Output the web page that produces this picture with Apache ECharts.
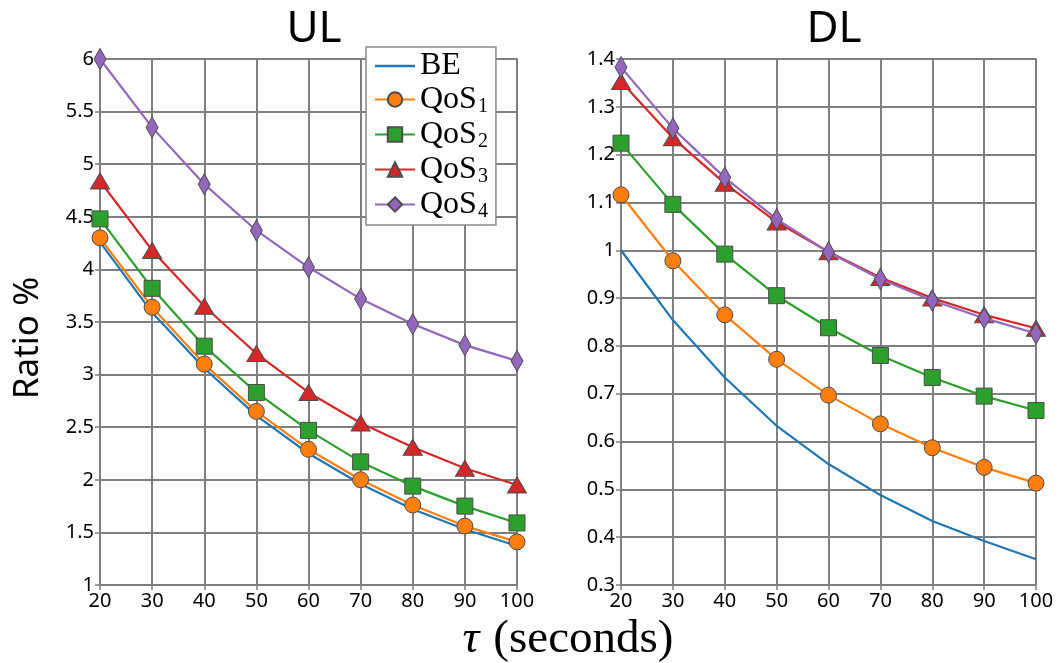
<!DOCTYPE html>
<html>
<head>
<meta charset="utf-8">
<script src="https://cdn.jsdelivr.net/npm/echarts@6/dist/echarts.min.js"></script>
<style>
  html, body { margin: 0; padding: 0; background: #fff; }
  #chart { width: 1058px; height: 663px; }
</style>
</head>
<body>
<div id="chart"></div>
<script>
// Update period tau in seconds
const tau = [20, 30, 40, 50, 60, 70, 80, 90, 100];

// Uplink ratio (%)
const ulBE   = [4.26, 3.59, 3.06, 2.61, 2.25, 1.96, 1.72, 1.53, 1.37];
const ulQoS1 = [4.30, 3.64, 3.10, 2.65, 2.29, 2.00, 1.76, 1.56, 1.41];
const ulQoS2 = [4.48, 3.82, 3.27, 2.83, 2.47, 2.17, 1.94, 1.75, 1.59];
const ulQoS3 = [4.84, 4.18, 3.65, 3.20, 2.83, 2.54, 2.31, 2.11, 1.95];
const ulQoS4 = [6.00, 5.35, 4.81, 4.37, 4.02, 3.72, 3.48, 3.28, 3.13];

// Downlink ratio (%)
const dlBE   = [1.000, 0.854, 0.734, 0.633, 0.553, 0.488, 0.434, 0.392, 0.354];
const dlQoS1 = [1.116, 0.978, 0.865, 0.772, 0.697, 0.637, 0.587, 0.546, 0.513];
const dlQoS2 = [1.224, 1.096, 0.992, 0.905, 0.838, 0.780, 0.734, 0.695, 0.665];
const dlQoS3 = [1.353, 1.235, 1.140, 1.059, 0.997, 0.943, 0.900, 0.865, 0.837];
const dlQoS4 = [1.383, 1.255, 1.152, 1.065, 0.996, 0.940, 0.895, 0.858, 0.826];

const seriesNames = ['BE', 'QoS1', 'QoS2', 'QoS3', 'QoS4'];
const panelTitles = ['UL', 'DL'];
const xTicks = { min: 20, max: 100, interval: 10 };
const ulTicks = { min: 1, max: 6, interval: 0.5 };
const dlTicks = { min: 0.3, max: 1.4, interval: 0.1 };

const colors = ['#1f77b4', '#ff7f0e', '#2ca02c', '#d62728', '#9467bd'];
const symbols = ['none', 'circle', 'rect', 'triangle', 'diamond'];
const symbolSizes = [0, 16, 16, [19, 16], [12, 21]];
const gridGray = '#7f7f7f';
const sansFont = '"Noto Sans", "Open Sans", sans-serif';
const serifFont = '"Liberation Serif", "DejaVu Serif", serif';

const pair = (xs, ys) => xs.map((x, i) => [x, ys[i]]);

function xAxisFor(gridIndex) {
  return {
    type: 'value', gridIndex,
    min: xTicks.min, max: xTicks.max, interval: xTicks.interval,
    axisLine: { show: true, lineStyle: { color: gridGray, width: 2 } },
    axisTick: { show: true, length: 5, lineStyle: { color: gridGray, width: 1.5 } },
    splitLine: { show: true, lineStyle: { color: gridGray, width: 2 } },
    axisLabel: { color: '#000', fontSize: 20, fontFamily: sansFont, margin: 6 }
  };
}

// top spine with inward ticks, no labels
function topAxisFor(gridIndex) {
  return {
    type: 'value', gridIndex, position: 'top',
    min: xTicks.min, max: xTicks.max, interval: xTicks.interval,
    axisLine: { show: true, lineStyle: { color: gridGray, width: 2 } },
    axisTick: { show: true, inside: true, length: 9, lineStyle: { color: gridGray, width: 1.5 } },
    splitLine: { show: false },
    axisLabel: { show: false }
  };
}

function yAxisFor(gridIndex, t) {
  return {
    type: 'value', gridIndex,
    min: t.min, max: t.max, interval: t.interval,
    axisLine: { show: true, lineStyle: { color: gridGray, width: 2 } },
    axisTick: { show: true, length: 5, lineStyle: { color: gridGray, width: 1.5 } },
    splitLine: { show: true, lineStyle: { color: gridGray, width: 2 } },
    axisLabel: {
      color: '#000', fontSize: 20, fontFamily: sansFont, margin: 6,
      formatter: v => String(Math.round(v * 100) / 100)
    }
  };
}

function makeSeries(gridIndex, data) {
  return data.map((ys, i) => ({
    name: seriesNames[i],
    type: 'line',
    xAxisIndex: gridIndex,
    yAxisIndex: gridIndex,
    data: pair(tau, ys),
    symbol: symbols[i],
    showSymbol: i !== 0,
    symbolSize: symbolSizes[i],
    clip: false,
    lineStyle: { color: colors[i], width: 2.2 },
    itemStyle: { color: colors[i], borderColor: '#4d4d4d', borderWidth: 1 },
    emphasis: { disabled: true },
    z: 2 + i
  }));
}

// legend entries: plain line for BE, line + marker for the QoS classes
const legendData = seriesNames.map((name, i) => i === 0
  ? { name, icon: 'path://M0,0H40V2.4H0Z', itemStyle: { color: colors[0], borderWidth: 0 } }
  : { name });

const chart = echarts.init(document.getElementById('chart'), null, { renderer: 'canvas' });

chart.setOption({
  animation: false,
  backgroundColor: '#fff',
  title: [
    { text: panelTitles[0], left: 309, top: 2, textAlign: 'center',
      textStyle: { fontFamily: sansFont, fontSize: 44, fontWeight: 'normal', color: '#000' } },
    { text: panelTitles[1], left: 829, top: 2, textAlign: 'center',
      textStyle: { fontFamily: sansFont, fontSize: 44, fontWeight: 'normal', color: '#000' } }
  ],
  grid: [
    { left: 100, right: 541, top: 59, bottom: 78, containLabel: false },
    { left: 621, right: 22, top: 59, bottom: 78, containLabel: false }
  ],
  xAxis: [xAxisFor(0), xAxisFor(1), topAxisFor(0), topAxisFor(1)],
  yAxis: [yAxisFor(0, ulTicks), yAxisFor(1, dlTicks)],
  legend: {
    orient: 'vertical',
    left: 366, top: 47,
    padding: [3, 8, 3, 8],
    itemGap: 0,
    itemWidth: 40,
    itemHeight: 18,
    backgroundColor: '#fff',
    borderColor: '#888',
    borderWidth: 1.5,
    borderRadius: 0,
    z: 20,
    data: legendData,
    formatter: name => name === 'BE'
      ? '{n|BE}'
      : '{n|QoS}{s|' + name.slice(3) + '}',
    textStyle: {
      color: '#000',
      rich: {
        n: { fontFamily: serifFont, fontSize: 32, lineHeight: 36, color: '#000' },
        s: { fontFamily: serifFont, fontSize: 20, lineHeight: 36, verticalAlign: 'middle',
             padding: [15, 0, 0, 1], color: '#000' }
      }
    }
  },
  graphic: [
    {
      type: 'text',
      x: 28, y: 338, rotation: Math.PI / 2,
      style: { text: 'Ratio %', fontFamily: sansFont, fontSize: 35, fill: '#000',
               align: 'center', verticalAlign: 'middle' }
    },
    {
      type: 'text',
      x: 568, y: 640,
      style: {
        text: '{t|τ}{p|(seconds)}',
        align: 'center', verticalAlign: 'middle',
        rich: {
          t: { fontFamily: serifFont, fontStyle: 'italic', fontSize: 47, fill: '#000', padding: [0, 14, 0, 0] },
          p: { fontFamily: serifFont, fontSize: 47, fill: '#000' }
        }
      }
    }
  ],
  series: [
    ...makeSeries(0, [ulBE, ulQoS1, ulQoS2, ulQoS3, ulQoS4]),
    ...makeSeries(1, [dlBE, dlQoS1, dlQoS2, dlQoS3, dlQoS4])
  ]
});
</script>
</body>
</html>
